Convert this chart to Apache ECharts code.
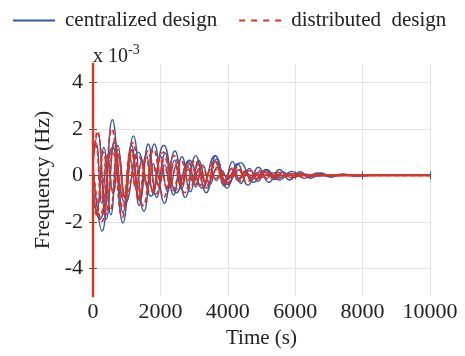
<!DOCTYPE html>
<html>
<head>
<meta charset="utf-8">
<script src="https://cdn.jsdelivr.net/npm/echarts@6/dist/echarts.min.js"></script>
<style>html,body{margin:0;padding:0;background:#fff}#c{width:465px;height:356px}</style>
</head>
<body>
<div id="c"></div>
<script>
// Frequency deviation in units of 1e-3 Hz, [time (s), value] at read-off extrema
const xTicks = [0, 2000, 4000, 6000, 8000, 10000];
const yTicks = [-4, -2, 0, 2, 4];
const legendNames = ['centralized design', 'distributed  design'];

const spike = [[0, -9], [0, 9]];

const central1 = [[0,0.3],[270,-2.4],[575,2.4],[890,-2.05],[1200,1.7],[1510,-1.55],[1820,1.35],[2120,-1.2],[2430,1.05],[2740,-0.95],[3050,0.85],[3360,-0.75],[3670,0.7],[3980,-0.55],[4290,0.5],[4600,-0.42],[4910,0.35],[5220,-0.3],[5530,0.25],[5840,-0.2],[6150,0.16],[6460,-0.13],[6770,0.1],[7080,-0.07],[7400,0.05],[7800,-0.02],[8300,0],[10000,0]];
const central2 = [[0,0.5],[140,1.8],[390,-1.9],[640,1.5],[890,-1.6],[1140,1.3],[1390,-1.1],[1640,1.35],[1890,-0.95],[2140,0.95],[2390,-0.85],[2640,0.8],[2890,-0.7],[3140,0.65],[3390,-0.55],[3640,0.85],[3890,-0.45],[4140,0.6],[4390,-0.35],[4640,0.3],[4890,-0.26],[5140,0.22],[5390,-0.18],[5640,0.15],[5890,-0.12],[6140,0.1],[6400,-0.08],[6700,0.05],[7000,-0.03],[7400,0],[10000,0]];
const central3 = [[0,-0.4],[110,-1.5],[320,1.2],[530,-1.7],[740,1.3],[950,-1.0],[1160,1.1],[1370,-1.3],[1580,0.9],[1790,-0.8],[2000,0.85],[2210,-0.7],[2420,0.65],[2630,-0.6],[2840,0.6],[3050,-0.5],[3260,0.45],[3470,-0.4],[3680,0.35],[3890,-0.3],[4100,0.28],[4310,-0.24],[4520,0.2],[4730,-0.18],[4940,0.15],[5150,-0.13],[5360,0.12],[5570,-0.1],[5780,0.08],[6000,-0.07],[6300,0.05],[6600,-0.03],[7000,0],[10000,0]];
const central4 = [[0,0.8],[90,1.4],[260,-1.2],[430,0.9],[600,-0.8],[770,0.9],[940,-0.9],[1110,0.7],[1280,-0.6],[1450,0.65],[1620,-0.55],[1790,0.5],[1960,-0.5],[2130,0.45],[2300,-0.42],[2470,0.42],[2640,-0.38],[2810,0.35],[2980,-0.33],[3150,0.3],[3320,-0.27],[3490,0.25],[3660,-0.22],[3830,0.2],[4000,-0.18],[4170,0.16],[4340,-0.14],[4510,0.13],[4680,-0.11],[4850,0.1],[5020,-0.08],[5190,0.06],[5400,-0.04],[5700,0],[10000,0]];
const central5 = [[0,-1.0],[200,-1.9],[580,1.2],[960,-1.2],[1340,1.0],[1720,-0.9],[2100,1.3],[2480,-0.75],[2860,0.65],[3240,-0.55],[3620,0.85],[4000,-0.4],[4380,0.55],[4760,-0.3],[5140,0.25],[5520,-0.2],[5900,0.17],[6280,-0.13],[6660,0.1],[7040,-0.07],[7420,0.05],[7800,-0.03],[8300,0],[10000,0]];

const distrib1 = [[0,0.4],[260,-2.0],[560,2.0],[870,-1.8],[1180,1.4],[1490,-1.3],[1800,1.1],[2100,-0.95],[2410,0.85],[2720,-0.75],[3030,0.65],[3340,-0.55],[3650,0.48],[3960,-0.4],[4270,0.33],[4580,-0.27],[4890,0.22],[5200,-0.17],[5510,0.13],[5820,-0.1],[6130,0.07],[6440,-0.05],[6800,0.02],[7200,0],[10000,0]];
const distrib2 = [[0,0.6],[130,1.9],[380,-1.7],[630,1.4],[880,-1.4],[1130,1.1],[1380,-1.0],[1630,1.05],[1880,-0.8],[2130,0.75],[2380,-0.65],[2630,0.6],[2880,-0.55],[3130,0.5],[3380,-0.45],[3630,0.6],[3880,-0.35],[4130,0.3],[4380,-0.25],[4630,0.2],[4880,-0.16],[5130,0.13],[5380,-0.1],[5630,0.08],[5900,-0.06],[6200,0.04],[6600,0],[10000,0]];
const distrib3 = [[0,-0.5],[100,-1.7],[310,1.0],[520,-1.5],[730,1.1],[940,-0.9],[1150,0.95],[1360,-1.1],[1570,0.75],[1780,-0.65],[1990,0.7],[2200,-0.55],[2410,0.5],[2620,-0.45],[2830,0.42],[3040,-0.38],[3250,0.34],[3460,-0.3],[3670,0.26],[3880,-0.22],[4090,0.19],[4300,-0.16],[4510,0.13],[4720,-0.11],[4930,0.09],[5140,-0.07],[5400,0.05],[5700,-0.02],[6000,0],[10000,0]];
const distrib4 = [[0,0.9],[80,1.3],[250,-1.0],[420,0.8],[590,-0.7],[760,0.75],[930,-0.75],[1100,0.6],[1270,-0.5],[1440,0.55],[1610,-0.45],[1780,0.42],[1950,-0.4],[2120,0.36],[2290,-0.32],[2460,0.3],[2630,-0.27],[2800,0.24],[2970,-0.22],[3140,0.19],[3310,-0.17],[3480,0.15],[3650,-0.13],[3820,0.11],[3990,-0.1],[4160,0.08],[4330,-0.07],[4500,0.05],[4700,0],[10000,0]];
const distrib5 = [[0,-1.2],[190,-1.7],[570,1.0],[950,-1.0],[1330,0.85],[1710,-0.75],[2090,1.0],[2470,-0.6],[2850,0.5],[3230,-0.42],[3610,0.6],[3990,-0.3],[4370,0.25],[4750,-0.2],[5130,0.15],[5510,-0.11],[5890,0.08],[6270,-0.06],[6650,0.04],[7100,0],[10000,0]];

const centralSets = [central1, central2, central3, central4, central5];
const distribSets = [distrib1, distrib2, distrib3, distrib4, distrib5];

const BLUE = '#3b55a6', RED = '#e2321f';
const FONT = 'Liberation Serif';

const series = [];
series.push({type:'line', name:legendNames[0], data:spike, symbol:'none',
  lineStyle:{color:BLUE, width:2}, itemStyle:{color:BLUE}, silent:true});
centralSets.forEach(d => series.push({type:'line', name:legendNames[0], data:d, smooth:0.5,
  symbol:'none', lineStyle:{color:BLUE, width:1.4}, itemStyle:{color:BLUE}}));
distribSets.forEach(d => series.push({type:'line', name:legendNames[1], data:d, smooth:0.5,
  symbol:'none', lineStyle:{color:RED, width:1.7, type:[5,3]}, itemStyle:{color:RED}}));
series.push({type:'line', name:legendNames[1], data:spike, symbol:'none',
  lineStyle:{color:RED, width:2.4}, itemStyle:{color:RED}, silent:true});

const axisCol = '#555';
const chart = echarts.init(document.getElementById('c'), null, {renderer:'canvas'});
chart.setOption({
  animation:false,
  backgroundColor:'#fff',
  textStyle:{fontFamily:FONT},
  legend:{
    left:8, top:5, width:465, itemWidth:42, itemHeight:14, itemGap:22,
    data:[
      {name:legendNames[0], icon:'path://M0,6L42,6L42,8L0,8Z', itemStyle:{color:BLUE}},
      {name:legendNames[1], icon:'path://M0,6L6,6L6,8L0,8ZM12,6L18,6L18,8L12,8ZM24,6L30,6L30,8L24,8ZM36,6L42,6L42,8L36,8Z', itemStyle:{color:RED}}
    ],
    textStyle:{fontFamily:FONT, fontSize:21, color:'#222', padding:[0,0,0,5]}
  },
  grid:{left:93, right:35, top:64, bottom:60, containLabel:false},
  xAxis:[
    {type:'value', min:0, max:10000, interval:2000, position:'bottom',
     name:'Time (s)', nameLocation:'middle', nameGap:31,
     nameTextStyle:{fontFamily:FONT, fontSize:21, color:'#222'},
     axisLine:{show:true, lineStyle:{color:axisCol, width:1}},
     axisTick:{show:true, inside:true, length:4, lineStyle:{color:axisCol}},
     axisLabel:{fontFamily:FONT, fontSize:22, color:'#222', margin:5, formatter:v => String(v)},
     splitLine:{show:true, lineStyle:{color:'#e3e3e3', width:1}}},
    {type:'value', min:0, max:10000, interval:2000, position:'top',
     axisLine:{show:true, lineStyle:{color:axisCol, width:1}},
     axisTick:{show:true, inside:true, length:4, lineStyle:{color:axisCol}},
     axisLabel:{show:false}, splitLine:{show:false}}
  ],
  yAxis:[
    {type:'value', min:-5.2, max:4.8, position:'left',
     name:'Frequency (Hz)', nameLocation:'middle', nameGap:34,
     nameTextStyle:{fontFamily:FONT, fontSize:22, color:'#222'},
     axisLine:{show:true, lineStyle:{color:axisCol, width:1}},
     axisTick:{show:true, inside:true, length:4, lineStyle:{color:axisCol}, customValues:yTicks},
     axisLabel:{fontFamily:FONT, fontSize:22, color:'#222', margin:10, customValues:yTicks, formatter:v => String(v)},
     splitLine:{show:true, lineStyle:{color:'#e3e3e3', width:1}}},
    {type:'value', min:-5.2, max:4.8, position:'right',
     axisLine:{show:true, lineStyle:{color:axisCol, width:1}},
     axisTick:{show:true, inside:true, length:4, lineStyle:{color:axisCol}, customValues:yTicks},
     axisLabel:{show:false}, splitLine:{show:false}}
  ],
  graphic:[
    {type:'text', left:93, top:43, style:{
      text:'{a|x 10}{b|-3}', fill:'#222',
      rich:{a:{fontFamily:FONT, fontSize:20, color:'#222', verticalAlign:'bottom', lineHeight:24},
            b:{fontFamily:FONT, fontSize:14, color:'#222', verticalAlign:'top', lineHeight:24, padding:[0,0,10,0]}}
    }}
  ],
  series: series
});
</script>
</body>
</html>
